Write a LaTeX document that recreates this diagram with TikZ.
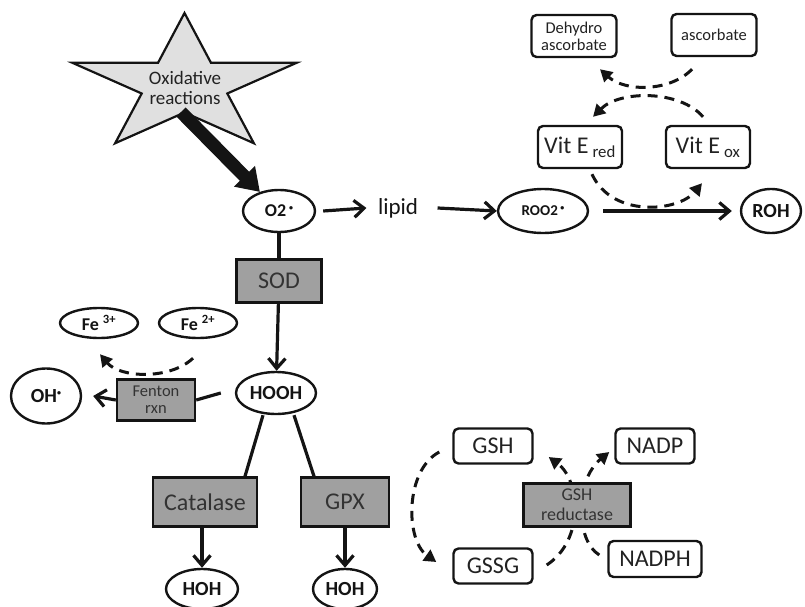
\documentclass[tikz,border=0pt]{standalone}
\usepackage{fontspec}
\setmainfont{Carlito}
\usetikzlibrary{arrows.meta,shapes.geometric,backgrounds,calc}
\definecolor{ink}{HTML}{141414}
\definecolor{enz}{HTML}{A0A0A0}
\definecolor{enztext}{HTML}{333333}
\definecolor{starfill}{HTML}{E0E0E0}
\definecolor{boxtext}{HTML}{222222}
\newcommand\rad{\raisebox{0.75ex}{\fontsize{8}{8}\selectfont\textbullet}}
\tikzset{
  line/.style={draw=ink, line width=3.2pt},
  arr/.style={line, -{Straight Barb[length=10pt,width=17pt]}},
  dasharr/.style={draw=ink, line width=3pt, dash pattern=on 10pt off 7pt, -{Triangle[length=12pt,width=13pt]}},
  fatarr/.style={draw=ink, line width=13pt, -{Triangle[length=22pt,width=28pt]}},
  ell/.style={ellipse, draw=ink, line width=2.4pt, fill=white, inner sep=0pt, text=ink, font=\bfseries\fontsize{20}{22}\selectfont},
  rbox/.style={rectangle, rounded corners=5pt, draw=ink, line width=2.4pt, fill=white, inner sep=0pt, align=center, text=boxtext},
  enzbox/.style={rectangle, draw=ink, line width=2.4pt, fill=enz, inner sep=0pt, align=center, text=enztext},
  bigtxt/.style={font=\fontsize{24}{26}\selectfont},
  starline/.style={draw=ink, line width=2.2pt, fill=starfill, line join=miter}
}

\begin{document}
\begin{tikzpicture}[x=1pt,y=-1pt]
  \useasboundingbox (0,0) rectangle (805,607);
  % oxidative reactions
  \draw[starline] plot[samples at={0,...,9}]
    ({184.5+ifthenelse(iseven(\x),118,45)*sin(36*\x)},{85-ifthenelse(iseven(\x),72,27.5)*cos(36*\x)}) -- cycle;
  \node[align=center, text=boxtext, font=\fontsize{19}{20}\selectfont] (star) at (185,88) {Oxidative\\reactions};
  \coordinate (starfoot) at (181,112);

  % lipid branch
  \node[ell, minimum width=72, minimum height=42, font=\bfseries\fontsize{18}{20}\selectfont] (O2) at (279,211) {O2\,\rad};
  \node[font=\fontsize{23}{25}\selectfont, text=ink] (lipid) at (398,208) {lipid};
  \node[ell, minimum width=90, minimum height=44, font=\bfseries\fontsize{15}{16}\selectfont] (ROO2) at (543,211) {ROO2\,\rad};
  \node[ell, minimum width=60, minimum height=44] (ROH) at (771,211) {ROH};
  \node[rbox, bigtxt, minimum width=84, minimum height=42] (VitEred) at (580,147) {Vit E\,\textsubscript{red}};
  \node[rbox, bigtxt, minimum width=84, minimum height=42] (VitEox) at (708,147) {Vit E\,\textsubscript{ox}};
  \node[rbox, minimum width=85, minimum height=42, font=\fontsize{16.5}{17}\selectfont] (dehydro) at (574,36) {Dehydro\\ascorbate};
  \node[rbox, minimum width=85, minimum height=42, font=\fontsize{16.5}{17}\selectfont] (ascorbate) at (714,35) {ascorbate};

  \draw[fatarr] (starfoot) -- (O2.135);
  \draw[arr] ([xshift=7]O2.east) -- ([xshift=-8]lipid.west);
  \draw[arr] ([xshift=16]lipid.east) -- (ROO2.west);
  \draw[arr] ([xshift=14]ROO2.east) -- ([xshift=-8]ROH.west);
  \draw[dasharr] ($(ascorbate.south)+(-22,12)$) .. controls (670,92) and (625,92) .. ($(dehydro.south)+(26,11)$);
  \draw[dasharr] ($(VitEox.north)+(-5,-8)$) .. controls (680,90) and (620,90) .. ($(VitEred.north)+(13,-8)$);
  \draw[dasharr] ($(VitEred.south)+(12,5)$) .. controls (612,218) and (678,212) .. ($(VitEox.south)+(-6,14)$);

  % SOD and Fenton
  \node[enzbox, bigtxt, minimum width=85, minimum height=43] (SOD) at (279,281) {SOD};
  \node[ell, minimum width=80, minimum height=42] (HOOH) at (276,393) {HOOH};
  \node[ell, minimum width=78, minimum height=30, font=\bfseries\fontsize{18}{20}\selectfont] (Fe3) at (99,323) {Fe \textsuperscript{3+}};
  \node[ell, minimum width=78, minimum height=30, font=\bfseries\fontsize{18}{20}\selectfont] (Fe2) at (198,323) {Fe \textsuperscript{2+}};
  \node[enzbox, minimum width=78, minimum height=41, font=\fontsize{16.5}{17}\selectfont] (fenton) at (156,400) {Fenton\\rxn};
  \node[ell, minimum width=70, minimum height=55] (OH) at (46,396) {OH\rad};

  \draw[line] (O2) -- (SOD);
  \draw[arr] (SOD) -- (HOOH);
  \draw[line] (fenton.east) -- ([xshift=-14]HOOH.west);
  \draw[arr] (fenton.west) -- ([xshift=11]OH.east);
  \draw[dasharr] ($(Fe2.south)+(-5,19)$) .. controls (170,380) and (120,378) .. ($(Fe3.south)+(1,15)$);

  % catalase and GPX
  \node[enzbox, bigtxt, minimum width=104, minimum height=49] (catalase) at (205,502) {Catalase};
  \node[enzbox, bigtxt, minimum width=88, minimum height=49] (GPX) at (345,502) {GPX};
  \node[ell, minimum width=72, minimum height=40] (HOHa) at (202,589) {HOH};
  \node[ell, minimum width=64, minimum height=40] (HOHb) at (345,589) {HOH};

  \draw[line] ([xshift=-13]HOOH.south) -- ([xshift=40]catalase.north);
  \draw[line] ([xshift=18]HOOH.south) -- ([xshift=-31]GPX.north);
  \draw[arr] ([xshift=-3]catalase.south) -- (HOHa.north);
  \draw[arr] (GPX.south) -- (HOHb.north);

  % glutathione cycle
  \node[rbox, bigtxt, minimum width=79, minimum height=35] (GSH) at (493,446) {GSH};
  \node[rbox, bigtxt, minimum width=79, minimum height=35] (NADP) at (655,446) {NADP};
  \node[rbox, bigtxt, minimum width=79, minimum height=35] (GSSG) at (493,566) {GSSG};
  \node[rbox, bigtxt, minimum width=93, minimum height=36] (NADPH) at (655,559) {NADPH};
  \node[enzbox, minimum width=107, minimum height=43, font=\fontsize{18}{20}\selectfont] (GSHred) at (577,505) {GSH\\reductase};

  \draw[dasharr] ($(GSH.west)+(-13,6)$) .. controls (405,470) and (405,540) .. ($(GSSG.west)+(-16,-4)$);
  \begin{scope}[on background layer]
    \draw[dasharr] ($(GSSG.east)+(13,-1)$) .. controls (585,540) and (580,480) .. ($(GSH.east)+(15,11)$);
    \draw[dasharr] ($(NADPH.west)+(-8,-4)$) .. controls (575,540) and (575,480) .. ($(NADP.west)+(-5,6)$);
  \end{scope}
\end{tikzpicture}
\end{document}
